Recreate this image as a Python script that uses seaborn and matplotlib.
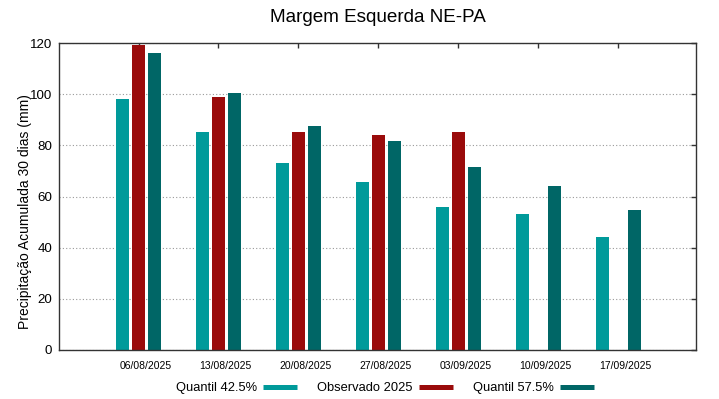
import matplotlib
matplotlib.use("Agg")
import matplotlib.pyplot as plt
import matplotlib.transforms as mtransforms
from matplotlib.lines import Line2D
import seaborn as sns
import pandas as pd
import numpy as np

# ---- data ----
dates = ["06/08/2025", "13/08/2025", "20/08/2025", "27/08/2025",
         "03/09/2025", "10/09/2025", "17/09/2025"]
series = ["Quantil 42.5%", "Observado 2025", "Quantil 57.5%"]
q425 = [98.1, 85.1, 73.1, 65.7, 56.0, 53.0, 44.0]
obs2025 = [119.4, 98.8, 85.4, 84.2, 85.4, np.nan, np.nan]
q575 = [116.0, 100.5, 87.6, 81.6, 71.4, 64.0, 54.9]
colors = ["#009a9a", "#9a0b0b", "#006666"]
yticks = [0, 20, 40, 60, 80, 100, 120]

rows = []
for s, vals in zip(series, [q425, obs2025, q575]):
    for d, v in zip(dates, vals):
        if not np.isnan(v):
            rows.append({"data": d, "serie": s, "valor": v})
df = pd.DataFrame(rows)

sns.set_style("white")
plt.rcParams["font.family"] = ["Liberation Sans", "DejaVu Sans"]
plt.rcParams["text.color"] = "black"
plt.rcParams["axes.labelcolor"] = "black"
plt.rcParams["xtick.color"] = "black"
plt.rcParams["ytick.color"] = "black"

fig = plt.figure(figsize=(7.19, 3.99), dpi=100)
ax = fig.add_axes([59 / 719, 1 - 350 / 399, (696 - 59) / 719, (350 - 43) / 399])

sns.barplot(data=df, x="data", y="valor", hue="serie", order=dates,
            hue_order=series, palette=dict(zip(series, colors)),
            width=0.6, gap=0.1875, errorbar=None, dodge=True,
            saturation=1, edgecolor="none", linewidth=0, legend=False, ax=ax)

ax.set_xlim(-0.995, 6.975)
ax.set_ylim(0, 120)
ax.set_yticks(yticks)
ax.set_xlabel("")
ax.set_ylabel("Precipitação Acumulada 30 dias (mm)", fontsize=10)
ax.yaxis.set_label_coords(-0.0424, 0.45)

ax.yaxis.grid(True, linestyle=(0, (1, 2)), color="#999999", linewidth=0.8)
ax.xaxis.grid(False)
ax.set_axisbelow(True)

for sp in ax.spines.values():
    sp.set_visible(True)
    sp.set_color("#333333")
    sp.set_linewidth(1.0)

ax.tick_params(axis="both", direction="in", length=3.5, width=1.0,
               color="#333333", labelcolor="black", top=True, right=True)
ax.tick_params(axis="x", labelsize=7.5, pad=8)
ax.tick_params(axis="y", labelsize=9.6, pad=5)

offset = mtransforms.ScaledTranslation(7 / 100, 0, fig.dpi_scale_trans)
for lab in ax.get_xticklabels():
    lab.set_transform(lab.get_transform() + offset)

fig.text(377.5 / 719, 1 - 17 / 399, "Margem Esquerda NE-PA", fontsize=13.6,
         ha="center", va="center", color="black")

handles = [Line2D([0], [0], color=c, linewidth=3.6, solid_capstyle="butt")
           for c in colors]
fig.legend(handles, series, loc="center", bbox_to_anchor=(385 / 719, 1 - 388 / 399),
           ncol=3, frameon=False, markerfirst=False, fontsize=9.3,
           handlelength=2.63, handletextpad=0.47, columnspacing=1.55,
           borderaxespad=0, borderpad=0)

fig.savefig("out.png", dpi=100)
